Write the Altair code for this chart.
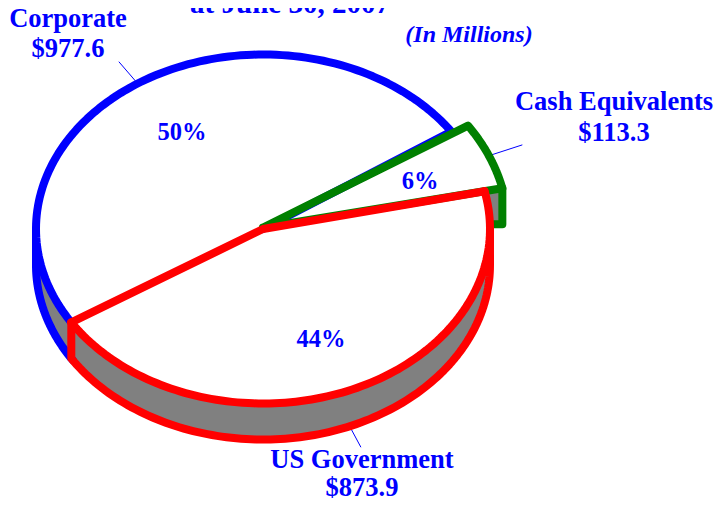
import numpy as np
import pandas as pd
import altair as alt

# values
names = ["Corporate", "Cash Equivalents", "US Government"]
values = [977.6, 113.3, 873.9]
percents = ["50%", "6%", "44%"]
amounts = ["$977.6", "$113.3", "$873.9"]
title_lines = ["at June 30, 2007"]
subtitle = "(In Millions)"

BLUE, GREEN, RED, GRAY = "#0000ff", "#008000", "#ff0000", "#808080"
FONT = "Liberation Serif"
SW = 8.0

# pie geometry, in picture pixels
CX, CY, RX, RY, DEPTH = 263.0, 229.0, 227.0, 174.5, 36.0
GREEN_SCALE = 1.08
START = 12.5  # parametric angle where US Government meets Cash Equivalents
total = sum(values)
sweeps = [v / total * 360 for v in values]
t_red_end = START
t_red_start = START - sweeps[2]
t_green_a = START
t_green_b = START + sweeps[1]
t_blue_a = t_green_b + 0.7
t_blue_b = t_blue_a + sweeps[0]


def ell(t, scale=1.0, dy=0.0):
    r = np.radians(t)
    return CX + RX * scale * np.cos(r), CY - RY * scale * np.sin(r) + dy


def arc(a, b, scale=1.0, dy=0.0, n=120):
    ts = np.linspace(a, b, n)
    return [ell(t, scale, dy) for t in ts]


def frame(points, group=""):
    return pd.DataFrame(
        {"x": [p[0] for p in points], "y": [p[1] for p in points],
         "i": range(len(points)), "g": group}
    )


X = alt.X("x:Q", scale=alt.Scale(domain=[8, 714]), axis=None)
Y = alt.Y("y:Q", scale=alt.Scale(domain=[500, 8]), axis=None)


def stroke_line(points, color, width=SW):
    return (
        alt.Chart(frame(points))
        .mark_line(color=color, strokeWidth=width, strokeJoin="round", strokeCap="round", clip=False)
        .encode(x=X, y=Y, order="i:Q")
    )


def band(points, y2fn, color):
    df = frame(points)
    df["y2"] = [y2fn(p) for p in points]
    return (
        alt.Chart(df)
        .mark_area(color=color, opacity=1, interpolate="linear", orient="vertical")
        .encode(x=X, y=alt.Y("y:Q", scale=alt.Scale(domain=[500, 8]), axis=None, stack=None), y2="y2:Q")
    )


# gray wall of the whole pie
wall = band(arc(180, 360, n=240), lambda p: p[1] + DEPTH, GRAY)

# gray wall below the Cash Equivalents wedge
green_end = ell(t_green_a, GREEN_SCALE)
green_wall_pts = [(CX + (green_end[0] - CX) * f, CY + (green_end[1] - CY) * f) for f in (0.9, 1.0)]
green_wall = band(green_wall_pts, lambda p: p[1] + DEPTH, GRAY)

# white top of the pie
upper = arc(180, 0, n=240)
top_fill = band(upper, lambda p: 2 * CY - p[1], "white")

# leader lines
mids = [(t_blue_a + t_blue_b) / 2, (t_green_a + t_green_b) / 2, (t_red_start + t_red_end) / 2]
lead_df = pd.concat(
    [
        frame([ell(mids[0], 1.0), ell(mids[0], 1.15)], "a"),
        frame([ell(mids[1], GREEN_SCALE), ell(mids[1], 1.24)], "b"),
        frame([ell(mids[2], 1.0, DEPTH), ell(mids[2], 1.13, DEPTH)], "c"),
    ]
)
leaders = (
    alt.Chart(lead_df)
    .mark_line(color=BLUE, strokeWidth=1)
    .encode(x=X, y=Y, detail="g:N", order="i:Q")
)

# outlines
blue_top = stroke_line([(CX, CY)] + arc(t_blue_a, t_blue_b), BLUE)
blue_wall = stroke_line(arc(180, t_blue_b, dy=DEPTH), BLUE)
blue_left = stroke_line([ell(180), ell(180, dy=DEPTH)], BLUE)

green_side = stroke_line(
    [green_end, (green_end[0], green_end[1] + DEPTH), (CX + RX, green_end[1] + DEPTH)], GREEN
)
green_top = stroke_line(
    [(CX, CY - 1.5)] + arc(t_green_b, t_green_a, GREEN_SCALE) + [(CX, CY - 1.5)], GREEN
)

red_top = stroke_line([ell(t_red_start), (CX, CY)] + [ell(t_red_end)], RED)
red_arc = stroke_line(arc(t_red_start, t_red_end), RED)
red_bottom = stroke_line(
    [ell(t_red_start), ell(t_red_start, dy=DEPTH)] + arc(t_red_start, 0, dy=DEPTH) + [ell(0)], RED
)

# text (the page margin leaves no room above y=8 or beyond x=714, y=500)
LS = 26.5
text_rows = [
    (names[0], 68, 27, LS, "normal"),
    (amounts[0], 68, 57, LS, "normal"),
    (names[1], 614, 110, LS, "normal"),
    (amounts[1], 614, 141, LS, "normal"),
    (names[2], 362, 468, LS, "normal"),
    (amounts[2], 362, 496, LS, "normal"),
    (percents[0], 182, 140, 24.5, "normal"),
    (percents[1], 420, 189, 24.5, "normal"),
    (percents[2], 321, 347, 24.5, "normal"),
    (subtitle, 469, 42, 24, "italic"),
    (title_lines[0], 290, 13, 29, "normal"),
]
text_layers = []
for label, tx, ty, size, style in text_rows:
    text_layers.append(
        alt.Chart(pd.DataFrame({"x": [tx], "y": [ty], "t": [label]}))
        .mark_text(font=FONT, fontWeight="bold", fontStyle=style, fontSize=size, color=BLUE,
                   align="center", baseline="alphabetic", clip=False)
        .encode(x=X, y=Y, text="t:N")
    )

chart = (
    alt.layer(
        leaders, green_wall, wall, blue_wall, blue_left, top_fill, blue_top,
        green_side, green_top, red_bottom, red_arc, red_top, *text_layers
    )
    .properties(width=706, height=492, padding=0, autosize=alt.AutoSizeParams(type="none"), background="white")
    .configure_view(stroke=None)
)

chart.save("out.html", embed_options={"renderer": "svg", "actions": False})
